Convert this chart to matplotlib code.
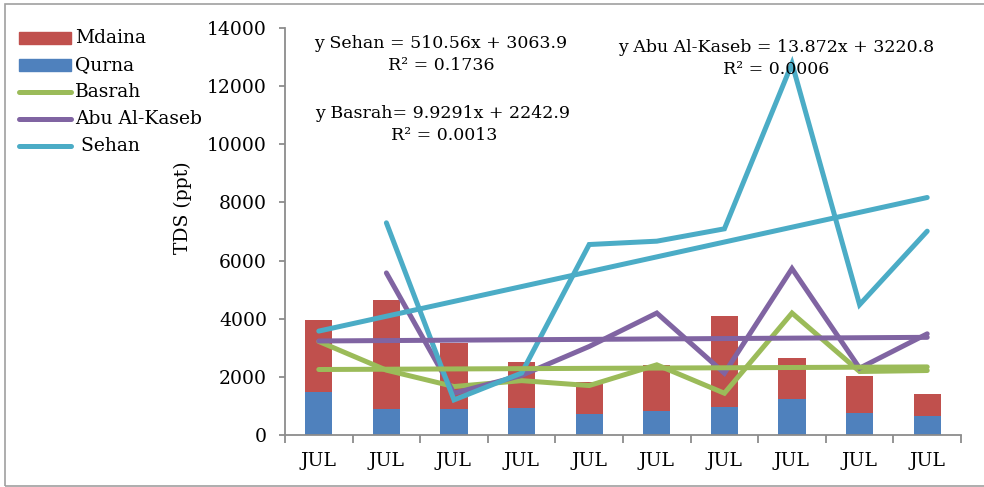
import matplotlib
matplotlib.use("Agg")
import matplotlib.pyplot as plt
from matplotlib.lines import Line2D
from matplotlib.patches import Rectangle
import numpy as np

categories = ["JUL"] * 10
qurna = [1493, 886, 886, 920, 713, 828, 954, 1230, 770, 655]
mdaina = [2448, 3769, 2275, 1586, 1126, 1572, 3126, 1414, 1264, 759]
basrah = [3218, 2230, 1667, 1870, 1701, 2414, 1437, 4195, 2184, 2218]
abu_al_kaseb = [np.nan, 5575, 1437, 2050, 3045, 4195, 2126, 5724, 2299, 3480]
sehan = [np.nan, 7299, 1207, 2130, 6552, 6667, 7092, 12780, 4483, 7011]

# trendline equations (slope, intercept) as printed on chart, x = 1..n
trend_sehan = (510.56, 3063.9)
trend_basrah = (9.9291, 2242.9)
trend_abu = (13.872, 3220.8)

C_RED = "#C0504D"
C_BLUE = "#4F81BD"
C_GREEN = "#9BBB59"
C_PURPLE = "#8064A2"
C_CYAN = "#4BACC6"

plt.rcParams['font.family'] = ['DejaVu Serif']

W, H = 984, 487
fig = plt.figure(figsize=(W / 100, H / 100), dpi=100)
ax = fig.add_axes([285 / W, 1 - 435 / H, (961 - 285) / W, (435 - 28) / H])

x = np.arange(len(categories))
ax.bar(x, qurna, width=0.4, color=C_BLUE, zorder=2)
ax.bar(x, mdaina, width=0.4, bottom=qurna, color=C_RED, zorder=2)

lw = 3.6
ax.plot(x, basrah, color=C_GREEN, lw=lw, solid_capstyle='round', solid_joinstyle='miter', zorder=3)
ax.plot(x, abu_al_kaseb, color=C_PURPLE, lw=lw, solid_capstyle='round', solid_joinstyle='miter', zorder=3)
ax.plot(x, sehan, color=C_CYAN, lw=lw, solid_capstyle='round', solid_joinstyle='miter', zorder=3)

xe = x + 1
for (m, b), c in [(trend_basrah, C_GREEN), (trend_abu, C_PURPLE), (trend_sehan, C_CYAN)]:
    ax.plot(x, m * xe + b, color=c, lw=lw, solid_capstyle='round', zorder=3)

ax.set_xlim(-0.5, len(categories) - 0.5)
ax.set_ylim(0, 14000)
ax.set_yticks(np.arange(0, 14001, 2000))
ax.set_xticks(np.arange(-0.5, len(categories), 1.0))
ax.set_xticklabels([])
ax.set_xticks(x, minor=True)
ax.set_xticklabels(categories, minor=True)

for s in ['top', 'right']:
    ax.spines[s].set_visible(False)
for s in ['left', 'bottom']:
    ax.spines[s].set_color('#8c8c8c')
    ax.spines[s].set_linewidth(1.3)

fs = 12.5
fs2 = 13.5
ax.tick_params(axis='y', which='major', direction='out', length=4, width=1.3,
               color='#8c8c8c', labelsize=fs2, pad=9)
ax.tick_params(axis='x', which='major', direction='out', length=6, width=1.3,
               color='#8c8c8c')
ax.tick_params(axis='x', which='minor', length=0, labelsize=fs2, pad=12)

fig.text(183 / W, 1 - 208 / H, "TDS (ppt)", rotation=90, ha='center', va='center', fontsize=fs2)

# trendline equation labels
fig.text(441 / W, 1 - 43 / H, "y Sehan = 510.56x + 3063.9", ha='center', va='center', fontsize=fs)
fig.text(441 / W, 1 - 65 / H, "R² = 0.1736", ha='center', va='center', fontsize=fs)
fig.text(443 / W, 1 - 113 / H, "y Basrah= 9.9291x + 2242.9", ha='center', va='center', fontsize=fs)
fig.text(444 / W, 1 - 135 / H, "R² = 0.0013", ha='center', va='center', fontsize=fs)
fig.text(776 / W, 1 - 47 / H, "y Abu Al-Kaseb = 13.872x + 3220.8", ha='center', va='center', fontsize=fs)
fig.text(776 / W, 1 - 70 / H, "R² = 0.0006", ha='center', va='center', fontsize=fs)

# legend (manual, in figure pixels)
legend_items = [("Mdaina", C_RED, 'bar'), ("Qurna", C_BLUE, 'bar'),
                ("Basrah", C_GREEN, 'line'), ("Abu Al-Kaseb", C_PURPLE, 'line'),
                (" Sehan", C_CYAN, 'line')]
ys = [38, 65, 92, 119, 146]
for (lab, col, kind), yy in zip(legend_items, ys):
    yf = 1 - yy / H
    if kind == 'bar':
        fig.add_artist(Rectangle((19 / W, yf - 5.5 / H), 52 / W, 11 / H,
                                 transform=fig.transFigure, color=col))
    else:
        fig.add_artist(Line2D([19 / W, 71 / W], [yf, yf], transform=fig.transFigure,
                              color=col, lw=lw, solid_capstyle='round'))
    fig.text(75 / W, yf, lab, ha='left', va='center', fontsize=fs2)

# outer frame (left, top, bottom)
fig.add_artist(Rectangle((5 / W, 1.5 / H), 1.2, 1 - 5 / H, transform=fig.transFigure,
                         fill=False, edgecolor='#a0a0a0', lw=1.2))

fig.savefig("out.png", dpi=100)
